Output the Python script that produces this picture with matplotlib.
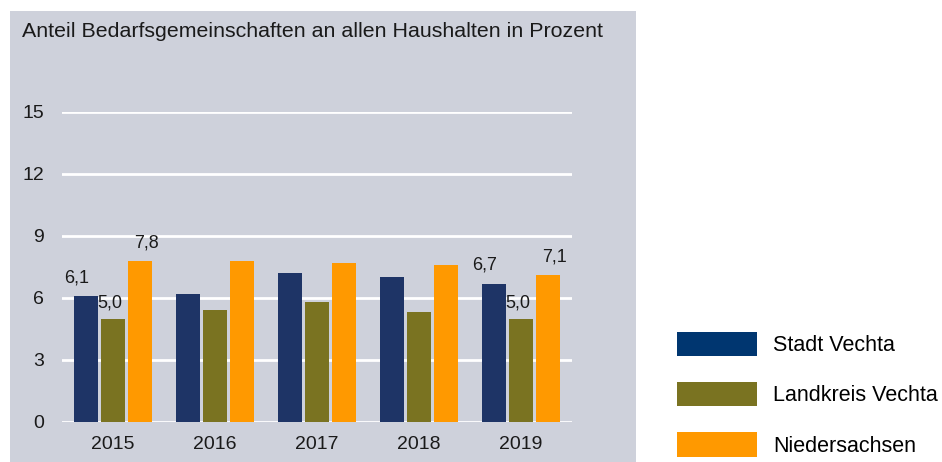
import numpy as np
import matplotlib.pyplot as plt
from matplotlib.patches import Rectangle, Patch

plt.rcParams['font.family'] = ['Liberation Sans', 'DejaVu Sans']

years = ['2015', '2016', '2017', '2018', '2019']
stadt = [6.1, 6.2, 7.2, 7.0, 6.7]
landkreis = [5.0, 5.4, 5.8, 5.3, 5.0]
nieders = [7.8, 7.8, 7.7, 7.6, 7.1]
series_names = ['Stadt Vechta', 'Landkreis Vechta', 'Niedersachsen']
# which years get value labels
labelled = [0, 4]

bar_cols = ['#1e3466', '#7a7321', '#ff9900']
leg_cols = ['#003670', '#7a7321', '#ff9900']
bg = '#ced1db'

W, H = 942, 462
fig = plt.figure(figsize=(W / 100, H / 100), dpi=100)

# grey panel behind the chart
fig.patches.append(Rectangle((10 / W, 0), 626 / W, (H - 11) / H,
                             transform=fig.transFigure, facecolor=bg,
                             edgecolor='none', zorder=0))
fig.text(22 / W, 1 - 37 / H, 'Anteil Bedarfsgemeinschaften an allen Haushalten in Prozent',
         fontsize=15.4, color='#1a1a1a', va='baseline', ha='left')

ax = fig.add_axes([62 / W, (H - 422) / H, 510 / W, 310 / H])
ax.set_zorder(2)
ax.set_facecolor('none')
x = np.arange(len(years))
w = 0.235
off = 0.265
for i, (vals, c) in enumerate(zip([stadt, landkreis, nieders], bar_cols)):
    ax.bar(x + (i - 1) * off, vals, width=w, color=c, zorder=3)

dx = [-7, -2, 5]
dy = [7, 5, 7]
for i, vals in enumerate([stadt, landkreis, nieders]):
    for j in labelled:
        ax.annotate(f'{vals[j]:.1f}'.replace('.', ','), (x[j] + (i - 1) * off, vals[j]),
                    xytext=(dx[i], dy[i]), textcoords='offset points',
                    ha='center', va='bottom', fontsize=13, color='#1a1a1a', zorder=4)

ax.set_xlim(-0.5, 4.5)
ax.set_ylim(0, 15)
ax.set_yticks([0, 3, 6, 9, 12, 15])
ax.set_xticks(x)
ax.set_xticklabels(years)
ax.yaxis.grid(True, color='white', lw=2, zorder=1)
ax.set_axisbelow(True)
for s in ax.spines.values():
    s.set_visible(False)
ax.tick_params(axis='y', length=0, pad=13, labelsize=14, labelcolor='#1a1a1a')
ax.tick_params(axis='x', length=0, pad=10, labelsize=14, labelcolor='#1a1a1a')

handles = [Patch(facecolor=c, edgecolor='none') for c in leg_cols]
fig.legend(handles, series_names, loc='upper left', bbox_to_anchor=(677 / W, 1 - 332 / H),
           frameon=False, fontsize=15.5, handlelength=3.72, handleheight=1.36,
           labelspacing=1.2, handletextpad=0.75, borderpad=0, borderaxespad=0)

fig.savefig('out.png', dpi=100)
